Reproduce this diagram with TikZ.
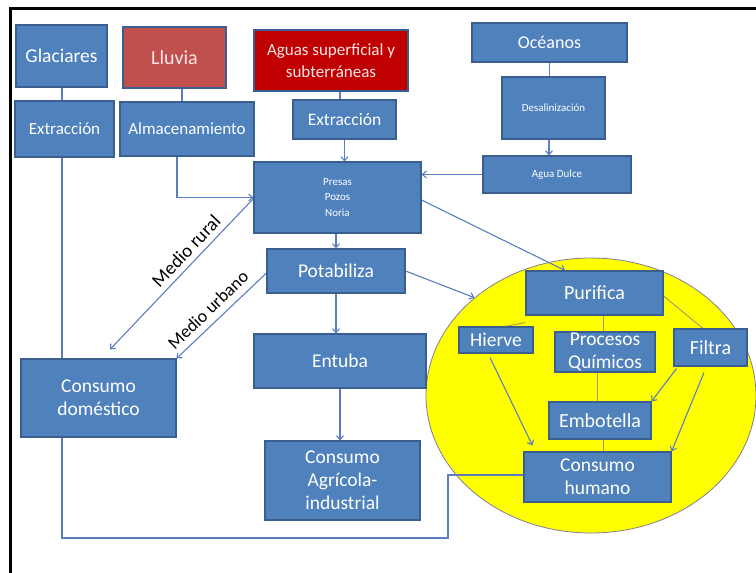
\documentclass[tikz,border=0pt]{standalone}
\usepackage{fontspec}
\setmainfont{Carlito}
\usetikzlibrary{arrows.meta,shapes.geometric}
\definecolor{boxblue}{HTML}{4F81BD}
\definecolor{boxedge}{HTML}{3A5F8E}
\definecolor{rainred}{HTML}{C0504D}
\definecolor{deepred}{HTML}{C00000}
\definecolor{linkblue}{HTML}{5B7EC2}
\definecolor{innerline}{HTML}{A8956A}
\definecolor{sunyellow}{HTML}{FFFF00}
\definecolor{ringedge}{HTML}{7F7F9A}
\definecolor{pinkwhite}{HTML}{FCE8E8}
\pgfdeclarelayer{bottom}
\pgfdeclarelayer{links}
\pgfsetlayers{bottom,links,main}

\begin{document}
\begin{tikzpicture}[x=1pt,y=-1pt,
  box/.style={draw=boxedge, line width=1.1pt, fill=boxblue, text=white, align=center, inner sep=1pt},
  link/.style={draw=linkblue, line width=1.1pt},
  arr/.style={link, -{Straight Barb[length=4pt,width=7pt]}},
  inner/.style={draw=innerline, line width=0.9pt},
  lbl/.style={text=black, inner sep=0pt}
]
\useasboundingbox (0,0) rectangle (756,573);
\begin{pgfonlayer}{bottom}
\fill[white] (0,0) rectangle (756,573);
\end{pgfonlayer}

% outer frame (left and top edges)
\draw[line width=3pt] (10,580) -- (10,8.7) -- (760,8.7);

% water sources
\node[box, minimum width=91pt, minimum height=62pt, font=\fontsize{19.5}{22}\selectfont] (glac) at (61.5,56) {Glaciares};
\node[box, fill=rainred, text=pinkwhite, minimum width=103pt, minimum height=61pt, font=\fontsize{20}{22}\selectfont] (lluv) at (174.5,57.5) {Lluvia};
\node[box, fill=deepred, text=pinkwhite, minimum width=154pt, minimum height=61pt, font=\fontsize{17}{22}\selectfont] (aguas) at (331,60.5) {Aguas superficial y\\subterráneas};
\node[box, minimum width=155pt, minimum height=39pt, font=\fontsize{18}{22}\selectfont] (ocea) at (549.5,42.5) {Océanos};

% first treatment row
\node[box, minimum width=99pt, minimum height=56pt, font=\fontsize{17}{20}\selectfont] (ext1) at (64.5,129) {Extracción};
\node[box, minimum width=134pt, minimum height=54pt, font=\fontsize{17}{20}\selectfont] (alm) at (187,129) {Almacenamiento};
\node[box, minimum width=103pt, minimum height=39pt, font=\fontsize{17.5}{20}\selectfont] (ext2) at (344.5,119.5) {Extracción};
\node[box, minimum width=103pt, minimum height=62pt, font=\fontsize{11}{13}\selectfont] (desal) at (553.5,108) {Desalinización};
\node[box, minimum width=148pt, minimum height=37pt, font=\fontsize{11}{13}\selectfont] (dulce) at (557,174.5) {Agua Dulce};

% storage and distribution
\node[box, minimum width=167pt, minimum height=71pt, font=\fontsize{11}{15.7}\selectfont] (presas) at (337.5,197.5) {Presas\\Pozos\\Noria};
\node[box, minimum width=138pt, minimum height=44pt, font=\fontsize{19.5}{22}\selectfont] (potab) at (336,271) {Potabiliza};
\node[box, minimum width=172pt, minimum height=54pt, font=\fontsize{19.5}{22}\selectfont] (entuba) at (340,361) {Entuba};
\node[box, minimum width=155pt, minimum height=79pt, font=\fontsize{19.5}{23}\selectfont] (agric) at (342.5,480.5) {Consumo\\Agrícola-\\industrial};
\node[box, minimum width=155pt, minimum height=78pt, font=\fontsize{19.5}{23}\selectfont] (domes) at (98.5,398) {Consumo\\doméstico};

% human consumption group
\begin{pgfonlayer}{bottom}
\node[ellipse, draw=ringedge, line width=0.8pt, fill=sunyellow, minimum width=330pt, minimum height=275pt, inner sep=0pt] (ell) at (591,395.5) {};
\end{pgfonlayer}
\node[box, minimum width=137pt, minimum height=44pt, font=\fontsize{20}{22}\selectfont] (purif) at (594.5,293) {Purifica};
\node[box, minimum width=74pt, minimum height=26pt, font=\fontsize{19.5}{22}\selectfont] (hierve) at (496,340) {Hierve};
\node[box, minimum width=100pt, minimum height=38pt, font=\fontsize{19.5}{23}\selectfont] (quim) at (605,352) {Procesos\\Químicos};
\node[box, minimum width=73pt, minimum height=37pt, font=\fontsize{20}{22}\selectfont] (filtra) at (710.5,347.5) {Filtra};
\node[box, minimum width=102pt, minimum height=37pt, font=\fontsize{20}{22}\selectfont] (embot) at (600,420.5) {Embotella};
\node[box, minimum width=147pt, minimum height=50pt, font=\fontsize{19.5}{23}\selectfont] (humano) at (597.5,477) {Consumo\\humano};

% path labels
\node[lbl, rotate=46.6, font=\fontsize{19}{22}\selectfont] (mrural) at (186,251) {Medio rural};
\node[lbl, rotate=44, font=\fontsize{18}{22}\selectfont] (murbano) at (208,310) {Medio urbano};

\coordinate (c1) at (62,538);
\coordinate (c2) at (448,538);
\coordinate (c3) at (448,475);

\begin{pgfonlayer}{links}
% sources to first row
\draw[link] (glac.south -| c1) -- (ext1.north -| c1);
\draw[link] ([xshift=7.5pt]lluv.south) -- ([xshift=7.5pt]lluv.south |- alm.north);
\draw[link] ([xshift=9pt]aguas.south) -- ([xshift=9pt]aguas.south |- ext2.north);
\draw[link] (ocea.south) -- (ocea.south |- desal.north);
\draw[arr] ([xshift=-4.5pt]desal.south) -- ([xshift=-4.5pt]desal.south |- dulce.north);
% into the reservoirs
\draw[arr] ([xshift=-10pt]alm.south) |- (presas.west);
\draw[arr] (ext2.south) -- (ext2.south |- presas.north);
\draw[arr] (dulce.west) -- (dulce.west -| presas.east);
% distribution
\draw[arr] (presas.south -| potab.north) -- (potab.north);
\draw[arr] (potab.south) -- (potab.south |- entuba.north);
\draw[arr] (entuba.south) -- (entuba.south |- agric.north);
\draw[arr] ([yshift=-2.5pt]presas.east) -- ([xshift=-29.5pt]purif.north);
\draw[arr] (potab.east) -- (ell.140);
\draw[arr] ([yshift=-1pt]presas.west) -- ([xshift=11.5pt,yshift=9pt]domes.north);
\draw[arr] ([yshift=-2pt]potab.west) -- (domes.north east);
% return line from the glacier extraction
\draw[link] (ext1.south -| c1) -- (c1) -- (c2) -- (c3) -- (c3 -| humano.west);
% inside the group
\draw[inner] ([yshift=-7pt]purif.south west) -- ([xshift=9pt]hierve.north);
\draw[inner] ([xshift=8.5pt]purif.south) -- ([xshift=8.5pt]purif.south |- quim.north);
\draw[inner] ([yshift=-3pt]purif.east) -- ([xshift=-7.5pt]filtra.north);
\draw[inner] ([xshift=-8pt]quim.south) -- ([xshift=-8pt]quim.south |- embot.north);
\draw[inner] ([xshift=3pt]embot.south) -- ([xshift=3pt]embot.south |- humano.north);
\draw[arr] ([xshift=-6pt,yshift=-4pt]hierve.south) -- ([xshift=9pt,yshift=6pt]humano.north west);
\draw[arr] ([xshift=3pt,yshift=-2pt]filtra.south west) -- (embot.north east);
\draw[arr] ([xshift=-6.5pt,yshift=-6pt]filtra.south) -- (humano.north east);
\end{pgfonlayer}
\end{tikzpicture}
\end{document}
